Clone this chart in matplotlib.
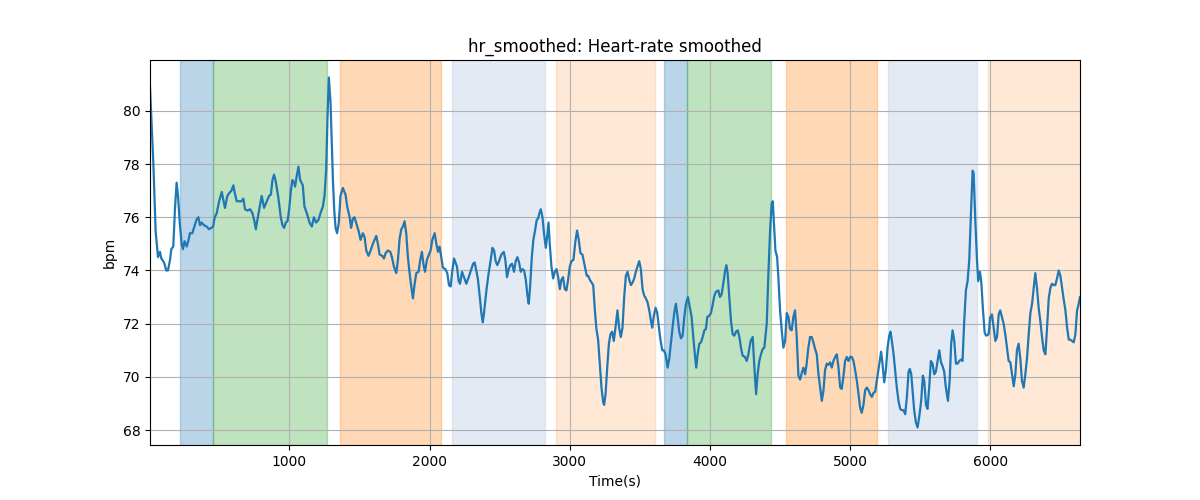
import matplotlib
matplotlib.use("Agg")
import matplotlib.pyplot as plt
import numpy as np

time_s = [5, 29, 45, 62, 76, 86, 105, 121, 133, 148, 157, 171, 183, 195, 205, 217, 231, 240, 252, 267, 278, 290, 307, 319, 336, 350, 362, 374, 390, 409, 426, 443, 455, 467, 481, 498, 517, 528, 540, 557, 569, 586, 600, 610, 624, 640, 657, 671, 683, 700, 719, 736, 748, 760, 771, 788, 802, 819, 838, 855, 867, 879, 890, 902, 919, 938, 950, 962, 974, 986, 998, 1010, 1021, 1033, 1040, 1052, 1064, 1076, 1095, 1107, 1124, 1143, 1160, 1174, 1190, 1207, 1221, 1238, 1250, 1262, 1271, 1281, 1293, 1302, 1310, 1319, 1329, 1340, 1352, 1364, 1381, 1400, 1412, 1429, 1440, 1452, 1464, 1481, 1495, 1507, 1524, 1536, 1548, 1564, 1579, 1595, 1607, 1619, 1631, 1643, 1662, 1674, 1686, 1702, 1719, 1731, 1745, 1762, 1774, 1786, 1798, 1810, 1821, 1833, 1845, 1857, 1869, 1881, 1893, 1905, 1921, 1933, 1945, 1957, 1967, 1981, 1995, 2007, 2019, 2036, 2048, 2060, 2071, 2083, 2095, 2112, 2126, 2138, 2150, 2162, 2174, 2195, 2207, 2217, 2231, 2245, 2262, 2279, 2298, 2310, 2321, 2333, 2345, 2360, 2369, 2379, 2388, 2405, 2421, 2436, 2448, 2460, 2471, 2483, 2495, 2512, 2529, 2540, 2552, 2564, 2576, 2588, 2602, 2614, 2626, 2638, 2650, 2662, 2674, 2686, 2698, 2707, 2717, 2729, 2740, 2752, 2764, 2774, 2783, 2793, 2805, 2817, 2829, 2838, 2848, 2857, 2869, 2881, 2893, 2905, 2917, 2929, 2940, 2952, 2964, 2976, 2988, 3000, 3012, 3026, 3040, 3052, 3064, 3076, 3090, 3107, 3121, 3131, 3143, 3155, 3167, 3179, 3190, 3202, 3214, 3226, 3238, 3245, 3255, 3267, 3279, 3290, 3302, 3314, 3326, 3340, 3352, 3364, 3376, 3388, 3400, 3412, 3424, 3436, 3448, 3460, 3471, 3483, 3495, 3507, 3519, 3531, 3543, 3555, 3567, 3579, 3588, 3598, 3612, 3624, 3636, 3648, 3660, 3671, 3683, 3698, 3710, 3721, 3733, 3745, 3757, 3769, 3781, 3793, 3805, 3817, 3829, 3843, 3857, 3869, 3881, 3893, 3902, 3912, 3924, 3936, 3948, 3960, 3971, 3981, 3995, 4007, 4019, 4031, 4043, 4060, 4071, 4083, 4095, 4107, 4117, 4126, 4138, 4150, 4162, 4174, 4186, 4198, 4210, 4221, 4233, 4250, 4262, 4274, 4290, 4305, 4317, 4329, 4340, 4352, 4364, 4376, 4388, 4405, 4417, 4429, 4440, 4448, 4457, 4467, 4479, 4488, 4500, 4512, 4524, 4536, 4548, 4560, 4571, 4583, 4595, 4607, 4619, 4631, 4643, 4655, 4667, 4679, 4690, 4702, 4714, 4726, 4738, 4750, 4762, 4774, 4786, 4798, 4810, 4821, 4833, 4845, 4857, 4869, 4881, 4893, 4905, 4917, 4929, 4940, 4952, 4964, 4976, 4988, 5000, 5012, 5024, 5036, 5048, 5060, 5071, 5083, 5095, 5107, 5119, 5131, 5143, 5155, 5167, 5179, 5190, 5202, 5214, 5221, 5231, 5243, 5255, 5267, 5279, 5288, 5298, 5310, 5321, 5333, 5345, 5357, 5369, 5381, 5393, 5405, 5417, 5426, 5436, 5445, 5457, 5469, 5481, 5493, 5507, 5519, 5529, 5541, 5552, 5564, 5576, 5588, 5600, 5612, 5624, 5636, 5648, 5660, 5671, 5683, 5698, 5710, 5721, 5731, 5743, 5755, 5767, 5779, 5790, 5802, 5814, 5826, 5838, 5850, 5862, 5874, 5881, 5893, 5905, 5914, 5926, 5936, 5948, 5960, 5971, 5988, 6000, 6012, 6024, 6036, 6048, 6060, 6071, 6083, 6095, 6107, 6119, 6131, 6143, 6155, 6167, 6179, 6190, 6202, 6214, 6226, 6238, 6250, 6262, 6274, 6286, 6298, 6310, 6321, 6333, 6345, 6357, 6369, 6381, 6393, 6405, 6417, 6429, 6440, 6452, 6464, 6476, 6488, 6500, 6512, 6524, 6536, 6548, 6560, 6571, 6583, 6595, 6607, 6619, 6631, 6640]

hr_bpm = [80.9, 78.0, 75.5, 74.5, 74.7, 74.45, 74.3, 74.0, 74.0, 74.4, 74.8, 74.9, 76.3, 77.3, 76.8, 75.8, 75.0, 74.8, 75.1, 74.9, 75.1, 75.4, 75.4, 75.6, 75.9, 76.0, 75.7, 75.8, 75.7, 75.65, 75.55, 75.6, 75.65, 76.0, 76.15, 76.6, 76.95, 76.65, 76.35, 76.8, 76.9, 77.0, 77.2, 76.9, 76.6, 76.6, 76.6, 76.7, 76.3, 76.25, 76.3, 76.15, 75.9, 75.55, 75.9, 76.4, 76.8, 76.35, 76.6, 76.8, 76.85, 77.4, 77.6, 77.35, 76.8, 76.0, 75.7, 75.6, 75.8, 75.85, 76.3, 77.0, 77.4, 77.3, 77.15, 77.55, 77.9, 77.4, 77.2, 76.4, 76.15, 75.8, 75.65, 76.0, 75.8, 75.9, 76.15, 76.4, 76.8, 77.8, 79.7, 81.25, 80.3, 78.8, 77.4, 76.3, 75.6, 75.4, 75.8, 76.8, 77.1, 76.85, 76.4, 76.0, 75.6, 75.95, 76.0, 75.7, 75.45, 75.15, 75.4, 75.25, 74.75, 74.55, 74.75, 75.0, 75.15, 75.3, 75.0, 74.6, 74.55, 74.45, 74.65, 74.75, 74.7, 74.5, 74.15, 73.9, 74.4, 75.2, 75.55, 75.65, 75.85, 75.4, 74.5, 73.9, 73.4, 72.95, 73.5, 73.9, 73.95, 74.4, 74.7, 74.2, 73.95, 74.4, 74.6, 74.75, 75.15, 75.4, 75.0, 74.7, 74.9, 74.5, 74.1, 74.05, 73.9, 73.45, 73.4, 74.0, 74.45, 74.15, 73.6, 73.5, 73.95, 73.75, 73.5, 73.75, 74.05, 74.25, 74.3, 74.0, 73.65, 72.9, 72.4, 72.05, 72.4, 73.25, 73.9, 74.4, 74.85, 74.75, 74.35, 74.2, 74.35, 74.6, 74.7, 74.4, 73.75, 74.05, 74.2, 74.25, 73.95, 74.35, 74.5, 74.3, 73.95, 74.05, 74.0, 73.65, 73.05, 72.75, 73.4, 74.5, 75.15, 75.5, 75.9, 75.95, 76.15, 76.3, 76.0, 75.35, 74.85, 75.25, 75.8, 75.0, 74.15, 73.7, 73.95, 74.05, 73.75, 73.3, 73.65, 73.75, 73.3, 73.25, 73.65, 74.15, 74.35, 74.4, 75.1, 75.5, 75.15, 74.65, 74.6, 74.15, 73.8, 73.8, 73.65, 73.55, 73.45, 72.5, 71.8, 71.4, 70.5, 69.6, 69.05, 68.95, 69.35, 70.35, 71.25, 71.6, 71.7, 71.35, 71.85, 72.5, 71.85, 71.5, 71.85, 73.0, 73.8, 73.95, 73.65, 73.45, 73.55, 73.7, 73.95, 74.15, 74.35, 74.05, 73.3, 73.05, 72.95, 72.8, 72.5, 72.1, 71.85, 72.25, 72.6, 72.4, 71.85, 71.35, 71.0, 71.0, 70.85, 70.35, 70.7, 71.25, 71.85, 72.4, 72.75, 72.25, 71.7, 71.45, 71.55, 72.25, 72.75, 73.0, 72.6, 72.25, 71.5, 70.8, 70.35, 70.85, 71.25, 71.3, 71.5, 71.75, 71.8, 72.25, 72.3, 72.4, 72.7, 73.05, 73.2, 73.25, 73.0, 73.1, 73.5, 73.95, 74.2, 73.9, 73.0, 72.1, 71.6, 71.55, 71.7, 71.75, 71.5, 71.1, 70.8, 70.75, 70.6, 70.85, 71.35, 71.5, 70.35, 69.35, 70.1, 70.6, 70.85, 71.05, 71.1, 72.0, 73.9, 75.5, 76.5, 76.6, 75.75, 74.75, 74.5, 73.75, 72.5, 71.75, 71.1, 71.35, 72.4, 72.25, 71.8, 71.75, 72.25, 72.5, 71.5, 70.05, 69.9, 70.15, 70.35, 70.1, 70.5, 71.1, 71.5, 71.5, 71.3, 71.05, 70.85, 70.1, 69.6, 69.1, 69.5, 70.25, 70.5, 70.45, 70.55, 70.35, 70.6, 70.75, 70.85, 70.35, 69.6, 69.55, 70.0, 70.6, 70.75, 70.6, 70.75, 70.75, 70.6, 70.25, 69.85, 69.35, 68.85, 68.65, 68.95, 69.5, 69.6, 69.5, 69.35, 69.25, 69.4, 69.45, 69.85, 70.3, 70.75, 70.95, 70.5, 69.8, 70.25, 71.1, 71.55, 71.7, 71.35, 70.85, 70.25, 69.6, 69.1, 68.8, 68.75, 68.75, 68.6, 69.25, 70.2, 70.3, 70.1, 69.5, 68.75, 68.3, 68.1, 68.5, 69.1, 70.05, 69.85, 68.95, 68.8, 69.6, 70.6, 70.5, 70.1, 70.2, 70.6, 71.0, 70.55, 70.4, 70.2, 69.6, 69.1, 69.85, 71.25, 71.75, 71.35, 70.5, 70.5, 70.6, 70.65, 70.6, 72.1, 73.25, 73.6, 74.4, 76.15, 77.75, 77.65, 75.9, 74.4, 73.6, 73.95, 73.55, 72.5, 71.65, 71.55, 71.6, 72.25, 72.35, 71.85, 71.35, 71.5, 72.35, 72.5, 72.25, 72.0, 71.6, 71.1, 70.6, 70.55, 70.1, 69.65, 70.1, 71.0, 71.25, 70.7, 69.85, 69.6, 70.1, 70.7, 71.6, 72.4, 72.75, 73.35, 73.9, 73.35, 72.6, 72.1, 71.5, 71.0, 70.85, 71.85, 72.95, 73.35, 73.5, 73.45, 73.45, 73.7, 74.0, 73.8, 73.35, 72.9, 72.5, 71.85, 71.4, 71.4, 71.35, 71.3, 71.6, 72.5, 72.75, 73.0]

span_starts = [220, 455, 1357, 2160, 2900, 3671, 3834, 4543, 5271, 5986]
span_ends = [455, 1266, 2082, 2825, 3610, 3834, 4432, 5189, 5906, 6640]
span_colors = ["tab:blue", "tab:green", "tab:orange", "lightsteelblue", "tab:orange",
               "tab:blue", "tab:green", "tab:orange", "lightsteelblue", "tab:orange"]
span_alphas = [0.3, 0.3, 0.3, 0.35, 0.17, 0.3, 0.3, 0.3, 0.35, 0.17]

fig, ax = plt.subplots(figsize=(12, 5), dpi=100)
for s, e, c, a in zip(span_starts, span_ends, span_colors, span_alphas):
    ax.axvspan(s, e, color=c, alpha=a)
ax.plot(time_s, hr_bpm, color="tab:blue", linewidth=1.6)
ax.set_xlim(time_s[0], time_s[-1])
ax.grid(True)
ax.set_title("hr_smoothed: Heart-rate smoothed")
ax.set_xlabel("Time(s)")
ax.set_ylabel("bpm")
fig.savefig("out.png", dpi=100)
